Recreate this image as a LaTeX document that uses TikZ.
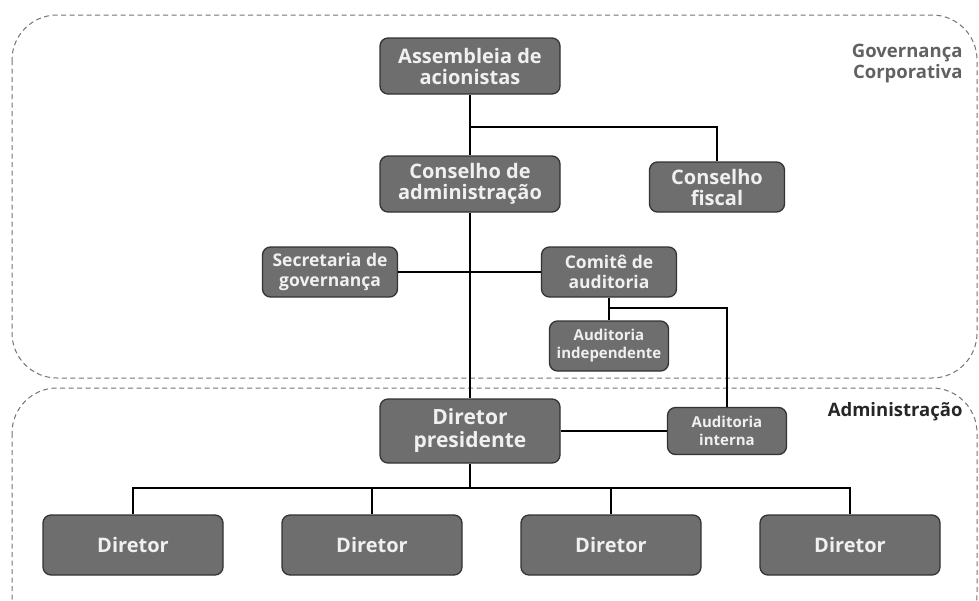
\documentclass[tikz,border=0pt]{standalone}
\usepackage{fontspec}
\setmainfont{Open Sans}
\begin{document}
\begin{tikzpicture}[x=1pt,y=-1pt,
  box/.style={draw=black!80, line width=1.3pt, fill=black!57, rounded corners=8pt,
    text=white!94!black, align=center, font=\bfseries, inner sep=0pt},
  region/.style={draw=black!55, line width=1pt, dash pattern=on 5pt off 3.5pt, rounded corners=45pt},
  link/.style={draw=black, line width=1.4pt},
  lbl/.style={font=\bfseries\fontsize{18.5}{21}\selectfont, align=right, anchor=east}]
\useasboundingbox (0,0) rectangle (979,600);
% regions
\draw[region] (12,15) rectangle (977,378);
\draw[region] (12,388) rectangle (977,640);
\node[lbl, text=black!62] (gc) at (966,64) {Governança\\Corporativa};
\node[lbl, text=black!85] (adm) at (966,412) {Administração};
% nodes
\node[box, minimum width=180pt, minimum height=56pt, font=\bfseries\fontsize{20}{21}\selectfont] (ass) at (470,66) {Assembleia de\\acionistas};
\node[box, minimum width=180pt, minimum height=56pt, font=\bfseries\fontsize{20}{21}\selectfont] (cad) at (470,184) {Conselho de\\administração};
\node[box, minimum width=135pt, minimum height=50pt, font=\bfseries\fontsize{20}{21}\selectfont] (cf) at (717,187) {Conselho\\fiscal};
\node[box, minimum width=135pt, minimum height=50pt, font=\bfseries\fontsize{17.5}{20}\selectfont] (sec) at (330,272) {Secretaria de\\governança};
\node[box, minimum width=135pt, minimum height=50pt, font=\bfseries\fontsize{17.5}{20}\selectfont] (cam) at (609,272) {Comitê de\\auditoria};
\node[box, minimum width=119pt, minimum height=50pt, font=\bfseries\fontsize{15}{18}\selectfont] (ai) at (609,346) {Auditoria\\independente};
\node[box, minimum width=180pt, minimum height=64pt, font=\bfseries\fontsize{21}{23}\selectfont] (dp) at (470,431) {Diretor\\presidente};
\node[box, minimum width=119pt, minimum height=47pt, font=\bfseries\fontsize{15}{18}\selectfont] (aint) at (727,431) {Auditoria\\interna};
\foreach \i/\x in {1/133,2/372,3/611,4/850}{
  \node[box, minimum width=180pt, minimum height=60pt, font=\bfseries\fontsize{20}{22}\selectfont] (d\i) at (\x,545) {Diretor};
}
% connectors
\coordinate (j1) at (470,127);
\draw[link] (ass.south) -- (cad.north);
\draw[link] (j1) -| (cf.north);
\draw[link] (cad.south) -- (dp.north);
\draw[link] (sec.east) -- (cam.west);
\draw[link] (cam.south) -- (ai.north);
\coordinate (j2) at (609,308);
\draw[link] (j2) -| (aint.north);
\draw[link] (dp.east) -- (aint.west);
\coordinate (j3) at (470,488);
\draw[link] (dp.south) -- (j3);
\foreach \i in {1,...,4}{\draw[link] (j3) -| (d\i.north);}
\end{tikzpicture}
\end{document}
